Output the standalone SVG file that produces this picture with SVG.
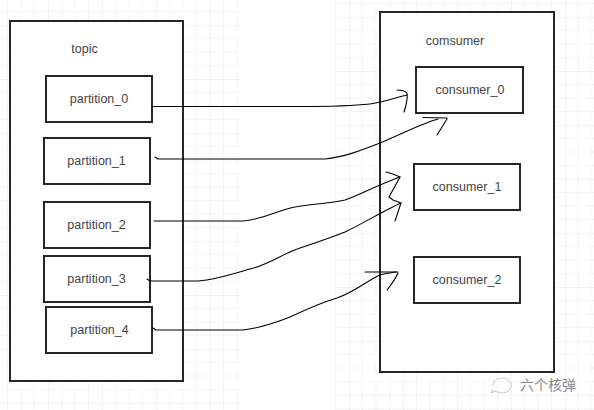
<svg xmlns="http://www.w3.org/2000/svg" width="594" height="410" viewBox="0 0 594 410">
  <defs>
    <pattern id="gridL" width="54" height="54" patternUnits="userSpaceOnUse" patternTransform="translate(48,25)">
      <path d="M13.5,0V54M27,0V54M40.5,0V54M0,13.5H54M0,27H54M0,40.5H54" stroke="#f5f5f5" stroke-width="1" fill="none"/>
      <path d="M0,0V54M0,0H54" stroke="#e8e8e8" stroke-width="1" fill="none"/>
    </pattern>
    <pattern id="gridR" width="54" height="54" patternUnits="userSpaceOnUse" patternTransform="translate(25,17)">
      <path d="M13.5,0V54M27,0V54M40.5,0V54M0,13.5H54M0,27H54M0,40.5H54" stroke="#f5f5f5" stroke-width="1" fill="none"/>
      <path d="M0,0V54M0,0H54" stroke="#e8e8e8" stroke-width="1" fill="none"/>
    </pattern>
  </defs>
  <style>
    .box { fill: #ffffff; stroke: #262626; stroke-width: 2; }
    .lbl { font-family: "Liberation Sans", Arial, sans-serif; font-size: 12.5px; fill: #444444; text-anchor: middle; }
    .wire { fill: none; stroke: #000000; stroke-width: 1.1; stroke-linecap: round; stroke-linejoin: round; }
    .wm { font-family: "Noto Sans CJK SC", sans-serif; font-size: 14px; fill: #8a8a8a; }
  </style>

  <rect x="0" y="0" width="594" height="410" fill="#ffffff"/>
  <rect x="0" y="0" width="240" height="410" fill="url(#gridL)"/>
  <rect x="335" y="0" width="259" height="410" fill="url(#gridR)"/>

  <g id="topic">
    <rect class="box" x="10" y="21" width="173" height="360"/>
    <text class="lbl" x="84.5" y="53">topic</text>
  </g>
  <g id="partition_0">
    <rect class="box" x="46" y="76" width="106" height="46"/>
    <text class="lbl" x="99" y="103">partition_0</text>
  </g>
  <g id="partition_1">
    <rect class="box" x="44" y="138" width="106" height="46"/>
    <text class="lbl" x="96.5" y="165">partition_1</text>
  </g>
  <g id="partition_2">
    <rect class="box" x="44" y="202" width="106" height="46"/>
    <text class="lbl" x="96.5" y="229">partition_2</text>
  </g>
  <g id="partition_3">
    <rect class="box" x="44" y="256" width="106" height="46"/>
    <text class="lbl" x="96.5" y="283">partition_3</text>
  </g>
  <g id="partition_4">
    <rect class="box" x="46" y="307" width="106" height="46"/>
    <text class="lbl" x="99.5" y="334">partition_4</text>
  </g>

  <g id="comsumer">
    <rect class="box" x="380" y="12" width="174" height="360"/>
    <text class="lbl" x="455" y="45">comsumer</text>
  </g>
  <g id="consumer_0">
    <rect class="box" x="416" y="67" width="107" height="46"/>
    <text class="lbl" x="470" y="94">consumer_0</text>
  </g>
  <g id="consumer_1">
    <rect class="box" x="414" y="164" width="106" height="46"/>
    <text class="lbl" x="467" y="191">consumer_1</text>
  </g>
  <g id="consumer_2">
    <rect class="box" x="414" y="257" width="106" height="46"/>
    <text class="lbl" x="467" y="284">consumer_2</text>
  </g>

  <g id="connectors">
    <path class="wire" d="M152,106.5 L300,106.5 C330,106.5 352,106 370,104 C385,102 398,97 407,95"/>
    <path class="wire" d="M397,90 C402,90 405,91 407,93 C408,100 406,106 404,112"/>

    <path class="wire" d="M155,157 L158,159 L325,159 C345,157 362,150 380,143 C400,135 420,124 438,119"/>
    <path class="wire" d="M423,117.5 L447,118 M447,119 L437,135"/>

    <path class="wire" d="M154,221 L243,221 C265,219 275,211 295,207 C315,204 330,203 345,200 C360,195 375,186 400,177"/>
    <path class="wire" d="M386,172 C391,173 396,175 400,177 L389,197 L393,200 L401,203 L395,221"/>

    <path class="wire" d="M147,279 L150,281 L198,281 C220,279 235,273 250,269 C270,264 282,254 300,248 C318,242 330,238 345,232 C362,224 385,210 401,203"/>

    <path class="wire" d="M153,328 L156,330 L243,330 C260,328 275,323 290,317 C305,310 320,303 337,298 C355,292 368,280 380,275 C386,273 390,273 396,272"/>
    <path class="wire" d="M365,272 L398,272" stroke-width="2"/>
    <path class="wire" d="M398,273 C395,280 391,285 387,290"/>
  </g>

  <g id="watermark">
    <path d="M493,386 C493,381 497,378 502,378 C507,378 511,381 511,386 C511,390 507,393 502,393 C499,393 497,392 495,391 M495,391 L491,393 L493,389" fill="none" stroke="#c8c8c8" stroke-width="1"/>
    <text class="wm" x="520" y="390">六个核弹</text>
  </g>
</svg>
